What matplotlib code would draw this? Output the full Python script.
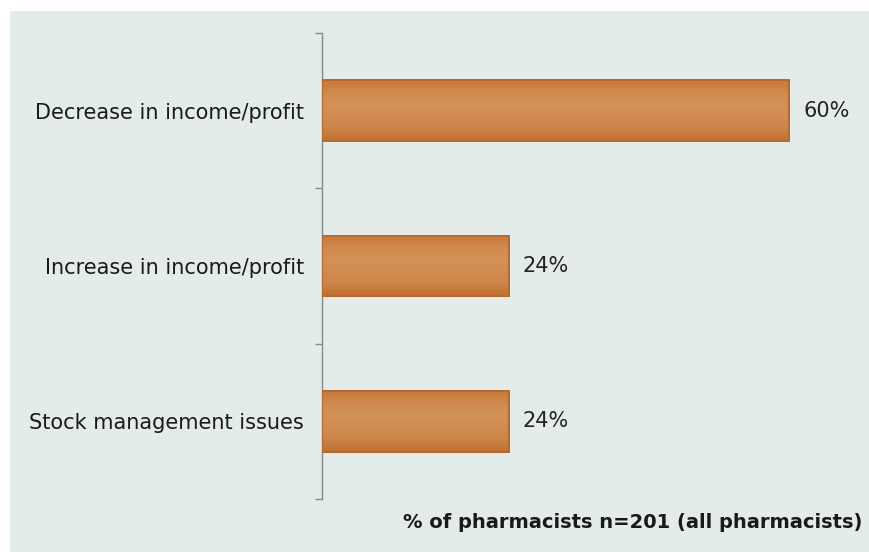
import numpy as np
import matplotlib.pyplot as plt
from matplotlib.patches import Rectangle
from matplotlib.colors import LinearSegmentedColormap

categories = ["Decrease in income/profit", "Increase in income/profit", "Stock management issues"]
values = [60, 24, 24]
value_labels = ["60%", "24%", "24%"]
footer = "% of pharmacists n=201 (all pharmacists)"

plt.rcParams['font.family'] = ['DejaVu Sans']

fig = plt.figure(figsize=(8.7, 5.52), dpi=100)
fig.patch.set_facecolor('white')

# light panel behind the chart
bg = fig.add_axes([10 / 870, 0, 1 - 10 / 870, 1 - 11 / 552], zorder=0)
bg.set_facecolor('#e4ece9')
bg.set_xticks([])
bg.set_yticks([])
for s in bg.spines.values():
    s.set_visible(False)

ax = fig.add_axes([322 / 870, 1 - 499 / 552, (862 - 322) / 870, (499 - 33) / 552], zorder=1)
ax.set_facecolor('none')

y = np.arange(len(categories))
bars = ax.barh(y, values, height=0.39, color='#cf8647', edgecolor='#b4662c', linewidth=1.2, zorder=2)

# soft glossy shading inside each bar
shade = LinearSegmentedColormap.from_list(
    'shade', ['#c87a3c', '#d08a4e', '#d39258', '#d08c52', '#cd8448', '#c0702f'])
grad = np.linspace(0, 1, 64).reshape(-1, 1)
for b in bars:
    x0, y0, w, h = b.get_x(), b.get_y(), b.get_width(), b.get_height()
    im = ax.imshow(grad, cmap=shade, aspect='auto', extent=(x0, x0 + w, y0 + h, y0),
                   zorder=2.5, interpolation='bicubic')
    im.set_clip_path(b)
    ax.add_patch(Rectangle((x0, y0), w, h, facecolor='none', edgecolor='#b8692e',
                           linewidth=1.4, zorder=3))

ax.set_xlim(0, (862 - 322) / (467 / 60))
ax.set_ylim(2.5, -0.5)

for yi, v, lab in zip(y, values, value_labels):
    ax.text(v + 1.8, yi, lab, va='center', ha='left', fontsize=15, color='#222222')

ax.set_yticks(y)
ax.set_yticklabels(categories, fontsize=15, color='#1a1a1a')
ax.tick_params(axis='y', which='major', length=0, pad=13)
ax.set_yticks([-0.5, 0.5, 1.5, 2.5], minor=True)
ax.tick_params(axis='y', which='minor', length=5, color='#888888', width=1)
ax.set_xticks([])

for s in ['top', 'right', 'bottom']:
    ax.spines[s].set_visible(False)
ax.spines['left'].set_color('#888888')
ax.spines['left'].set_linewidth(1)

fig.text(862 / 870, 1 - 523 / 552, footer, ha='right', va='center',
         fontsize=14, fontweight='bold', color='#1a1a1a')

fig.savefig('out.png', dpi=100, facecolor=fig.get_facecolor())
